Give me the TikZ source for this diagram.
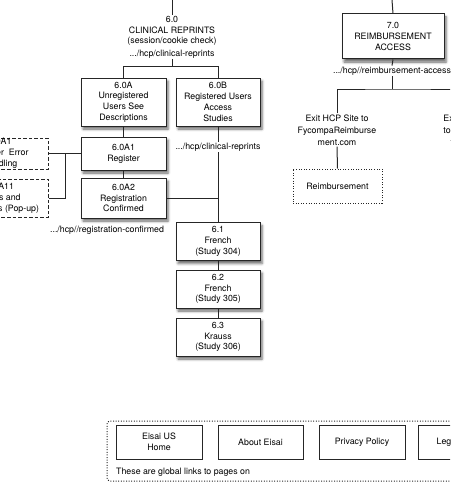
\documentclass[tikz,border=0pt]{standalone}
\usepackage{fontspec}
\setmainfont{TeX Gyre Heros}
\usetikzlibrary{shadows.blur,calc}
\tikzset{
  txt/.style={font=\fontsize{8.8}{10.8}\selectfont, align=center, inner sep=1pt},
  pagebox/.style={txt, draw=black!85, line width=1pt, fill=white, inner sep=0pt,
    blur shadow={shadow xshift=2pt, shadow yshift=-3pt, shadow blur radius=2.5pt, shadow opacity=60}},
  dashbox/.style={txt, draw=black!85, line width=1pt, dash pattern=on 3.5pt off 2pt, inner sep=0pt},
  dotbox/.style={txt, draw=black!85, line width=1pt, dash pattern=on 1pt off 1.6pt, inner sep=0pt},
  plainbox/.style={txt, draw=black!85, line width=1pt, fill=white, inner sep=0pt},
  conn/.style={draw=black!85, line width=1pt},
}
\begin{document}
\begin{tikzpicture}[x=1pt,y=-1pt]
\useasboundingbox (0,0) rectangle (450,495);
\clip (0,0) rectangle (450,495);
% ---- section 6.0
\coordinate (top6) at (172,0);
\node[txt] (n6) at (172,31) {6.0\\CLINICAL REPRINTS\\(session/cookie check)};
\node[txt] (u6) at (172,54) {.../hcp/clinical-reprints};
\coordinate (j6) at (172,66.5);
\node[pagebox, minimum width=85pt, minimum height=48pt] (a60) at (123.5,102) {6.0A\\Unregistered\\Users See\\Descriptions};
\node[pagebox, minimum width=84pt, minimum height=48pt] (b60) at (218,102) {6.0B\\Registered Users\\Access\\Studies};
\node[txt] (ub60) at (218,147) {.../hcp/clinical-reprints};
\node[pagebox, minimum width=85pt, minimum height=33pt] (a61) at (123.5,153.5) {6.0A1\\Register};
\node[pagebox, minimum width=85pt, minimum height=40pt] (a62) at (123.5,198) {6.0A2\\Registration\\Confirmed};
\node[txt] (ua62) at (107,230) {.../hcp//registration-confirmed};
\node[pagebox, minimum width=84pt, minimum height=38pt] (s61) at (218,241.5) {6.1\\French\\(Study 304)};
\node[pagebox, minimum width=84pt, minimum height=38pt] (s62) at (218,289) {6.2\\French\\(Study 305)};
\node[pagebox, minimum width=84pt, minimum height=38pt] (s63) at (218,337) {6.3\\Krauss\\(Study 306)};
\node[dashbox, minimum width=96pt, minimum height=31pt] (e1) at (0,153.5) {6.0A1\\Register\ \ Error\\Handling};
\node[dashbox, minimum width=96pt, minimum height=38pt] (e2) at (0,198) {6.0A11\\Terms and\\Conditions (Pop-up)};
\coordinate (jl) at (65,154);
\draw[conn] (top6) -- (n6.north);
\draw[conn] (u6.south) -- (j6);
\draw[conn] (a60.north) |- (j6) -| (b60.north);
\draw[conn] (a60.south) -- (a61.north);
\draw[conn] (a61.south) -- (a62.north);
\draw[conn] (b60.south) -- (ub60.north);
\draw[conn] (ub60.south) -- (s61.north);
\draw[conn] (a62.east) -- (a62.east -| s61.north);
\draw[conn] (s61.south) -- (s62.north);
\draw[conn] (s62.south) -- (s63.north);
\draw[conn] (e1.east) -- (a61.west);
\draw[conn] (e2.east) -| (jl);
% ---- section 7.0
\coordinate (top7) at (392,0);
\node[pagebox, minimum width=102pt, minimum height=45pt] (r70) at (393,36.5) {7.0\\REIMBURSEMENT\\ACCESS};
\node[txt] (ur70) at (392,71) {.../hcp//reimbursement-access};
\coordinate (j7) at (392,89);
\node[txt, font=\fontsize{8.8}{12}\selectfont] (ex1) at (337,130) {Exit HCP Site to\\FycompaReimburse\\ment.com};
\node[txt, font=\fontsize{8.8}{12}\selectfont] (ex2) at (470,130) {Exit HCP Site\\to this site via\\the PI link};
\node[dotbox, minimum width=89pt, minimum height=34pt] (rb) at (337.5,186) {Reimbursement};
\draw[conn] (top7) -- (r70.north);
\draw[conn] (r70.south) -- (ur70.north);
\draw[conn] (ur70.south) -- (j7);
\draw[conn] (ex1.north) |- (j7) -| (ex2.north);
\draw[conn] (ex1.south) -- (rb.north);
% ---- global links
\node[dotbox, rounded corners=3pt, minimum width=400pt, minimum height=60pt] (gl) at (307,451) {};
\node[plainbox, minimum width=86pt, minimum height=34pt] (g1) at (159,442) {Eisai US\\Home};
\node[plainbox, minimum width=85pt, minimum height=34pt] (g2) at (260.5,442) {About Eisai};
\node[plainbox, minimum width=86pt, minimum height=34pt] (g3) at (362,442) {Privacy Policy};
\node[plainbox, minimum width=86pt, minimum height=34pt] (g4) at (461,442) {Legal Notice};
\node[txt, anchor=west] (gt) at (115,472) {These are global links to pages on};
\end{tikzpicture}
\end{document}
